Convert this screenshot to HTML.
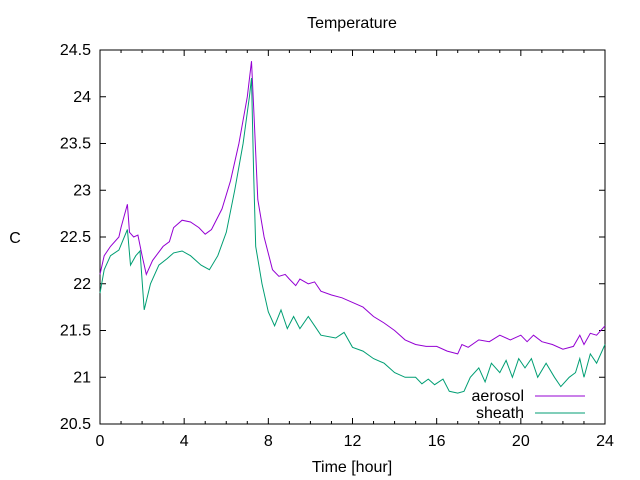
<!DOCTYPE html>
<html><head><meta charset="utf-8"><style>
html,body{margin:0;padding:0;background:#fff;}
svg{display:block;font-family:"Liberation Sans",sans-serif;}
</style></head><body>
<svg id="chart" width="640" height="480" viewBox="0 0 640 480" xmlns="http://www.w3.org/2000/svg">
<rect width="640" height="480" fill="#fff"/>
<text x="352" y="28" font-size="16" text-anchor="middle">Temperature</text>
<text x="15" y="243" font-size="16" text-anchor="middle">C</text>
<text x="352" y="472" font-size="16" text-anchor="middle">Time [hour]</text>
<g id="axes"></g>
<g id="series"></g>
<g id="legend">
<text x="524" y="401" font-size="16" text-anchor="end">aerosol</text>
<line x1="535" y1="396" x2="585" y2="396" stroke="#9400d3" stroke-width="1"/>
<text x="524" y="418" font-size="16" text-anchor="end">sheath</text>
<line x1="535" y1="413" x2="585" y2="413" stroke="#009e73" stroke-width="1"/>
</g>
</svg>
<script>
const xTicks=[0,4,8,12,16,20,24];
const yTicks=[20.5,21,21.5,22,22.5,23,23.5,24,24.5];
const aerosolHours=[0,0.2,0.5,0.9,1.0,1.3,1.4,1.6,1.8,2.0,2.2,2.5,3.0,3.3,3.5,3.9,4.3,4.7,5.0,5.3,5.8,6.2,6.6,7.0,7.2,7.3,7.5,7.8,8.2,8.5,8.8,9.0,9.3,9.5,9.9,10.2,10.5,11.0,11.5,12.0,12.5,13.0,13.5,14.0,14.5,15.0,15.5,16.0,16.5,17.0,17.2,17.5,18.0,18.5,19.0,19.5,20.0,20.3,20.6,21.0,21.5,22.0,22.5,22.8,23.0,23.3,23.6,24.0];
const aerosolTemps=[22.1,22.3,22.4,22.5,22.6,22.85,22.55,22.5,22.52,22.3,22.1,22.25,22.4,22.45,22.6,22.68,22.66,22.6,22.53,22.58,22.8,23.1,23.5,24.0,24.38,23.9,22.9,22.5,22.15,22.08,22.1,22.05,21.98,22.05,22.0,22.02,21.92,21.88,21.85,21.8,21.75,21.65,21.58,21.5,21.4,21.35,21.33,21.33,21.28,21.25,21.35,21.32,21.4,21.38,21.45,21.4,21.45,21.38,21.45,21.38,21.35,21.3,21.33,21.45,21.35,21.47,21.45,21.55];
const sheathHours=[0,0.2,0.5,0.9,1.3,1.45,1.7,1.9,2.1,2.4,2.8,3.2,3.5,3.9,4.3,4.8,5.2,5.6,6.0,6.4,6.8,7.1,7.2,7.3,7.4,7.7,8.0,8.3,8.6,8.9,9.2,9.5,9.9,10.2,10.5,11.2,11.6,12.0,12.5,13.0,13.5,14.0,14.5,15.0,15.3,15.6,15.9,16.3,16.6,17.0,17.3,17.6,18.0,18.3,18.6,19.0,19.3,19.6,19.9,20.2,20.5,20.8,21.2,21.6,21.9,22.3,22.6,22.8,23.0,23.3,23.6,24.0];
const sheathTemps=[21.9,22.15,22.3,22.36,22.58,22.2,22.3,22.35,21.72,22.0,22.2,22.27,22.33,22.35,22.3,22.2,22.15,22.3,22.55,23.0,23.5,24.0,24.2,23.2,22.4,22.0,21.7,21.55,21.72,21.52,21.65,21.52,21.65,21.55,21.45,21.42,21.48,21.32,21.28,21.2,21.15,21.05,21.0,21.0,20.93,20.98,20.92,20.98,20.85,20.83,20.85,21.0,21.1,20.95,21.15,21.05,21.18,21.0,21.2,21.1,21.2,21.0,21.15,21.0,20.9,21.0,21.05,21.2,21.0,21.25,21.15,21.35];

const L=100,R=605,T=50,B=424;
const xMin=0,xMax=24,yMin=20.5,yMax=24.5;
function xs(v){return L+(v-xMin)/(xMax-xMin)*(R-L);}
function ys(v){return B-(v-yMin)/(yMax-yMin)*(B-T);}
const NS="http://www.w3.org/2000/svg";
const axes=document.getElementById('axes');
function mk(tag,attrs,parent){const e=document.createElementNS(NS,tag);for(const k in attrs)e.setAttribute(k,attrs[k]);parent.appendChild(e);return e;}

const frame=mk('rect',{x:L,y:T,width:R-L,height:B-T,fill:'none',stroke:'#000','stroke-width':1},axes);



for(const t of yTicks){
  const y=ys(t);
  const a=mk('line',{x1:L,y1:y,x2:L+6,y2:y,stroke:'#000'},axes);
  
  
  const b=mk('line',{x1:R,y1:y,x2:R-6,y2:y,stroke:'#000'},axes);
  
  
  const tx=mk('text',{x:L-9,y:y+5,'font-size':16,'text-anchor':'end'},axes);
  tx.textContent=String(t);
  
  
}
for(let h=xMin;h<=xMax;h++){
  const x=xs(h);const major=xTicks.includes(h);const len=major?6:3;
  const a=mk('line',{x1:x,y1:B,x2:x,y2:B-len,stroke:'#000'},axes);
  
  
  const b=mk('line',{x1:x,y1:T,x2:x,y2:T+len,stroke:'#000'},axes);
  
  
}
for(const t of xTicks){
  const tx=mk('text',{x:xs(t),y:B+22,'font-size':16,'text-anchor':'middle'},axes);
  tx.textContent=String(t);
  
  
}
const series=document.getElementById('series');
function line(hs,vs,color,name){
  const d=hs.map((h,i)=>(i?'L':'M')+xs(h).toFixed(1)+' '+ys(vs[i]).toFixed(1)).join(' ');
  const p=mk('path',{d:d,fill:'none',stroke:color,'stroke-width':1},series);
  
  
}
line(aerosolHours,aerosolTemps,'#9400d3','aerosol-line');
line(sheathHours,sheathTemps,'#009e73','sheath-line');
</script>
</body></html>
